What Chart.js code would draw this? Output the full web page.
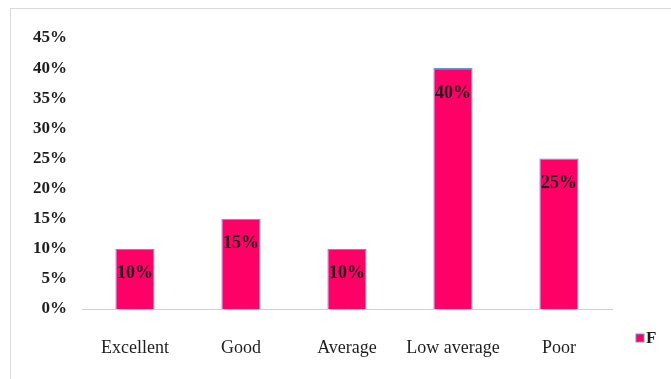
<!DOCTYPE html>
<html>
<head>
<meta charset="utf-8">
<script src="https://cdn.jsdelivr.net/npm/chart.js@4"></script>
<style>
    html, body { margin: 0; padding: 0; background: #fff; }
    #frame {
        position: absolute; left: 10px; top: 8px;
        width: 700px; height: 400px;
        border: 1px solid #d9d9d9;
    }
    #wrap { position: absolute; left: 0; top: 0; width: 671px; height: 379px; }
</style>
</head>
<body>
<div id="frame"></div>
<div id="wrap"><canvas id="barChart" width="671" height="379"></canvas></div>
<script>
const categories = ['Excellent', 'Good', 'Average', 'Low average', 'Poor'];
const percentages = [10, 15, 10, 40, 25];
const seriesName = 'F';

const serif = 'Liberation Serif, Times New Roman, serif';
const textColor = '#1e1e1e';

// value labels inside each bar + small legend at bottom right
const extras = {
    id: 'extras',
    afterDatasetsDraw(chart) {
        const ctx = chart.ctx;
        const meta = chart.getDatasetMeta(0);
        ctx.save();
        ctx.fillStyle = textColor;
        ctx.font = 'bold 18px ' + serif;
        ctx.textAlign = 'center';
        ctx.textBaseline = 'middle';
        meta.data.forEach((bar, i) => {
            ctx.fillText(percentages[i] + '%', bar.x, bar.y + 25);
        });

        const ds = chart.data.datasets[0];
        ctx.fillStyle = ds.backgroundColor;
        ctx.strokeStyle = ds.borderColor;
        ctx.lineWidth = 1;
        ctx.fillRect(636, 334, 8, 8);
        ctx.strokeRect(636, 334, 8, 8);
        ctx.fillStyle = textColor;
        ctx.font = 'bold 17px ' + serif;
        ctx.textAlign = 'left';
        ctx.fillText(ds.label, 646, 339);
        ctx.restore();
    }
};

const ctx1 = document.getElementById('barChart').getContext('2d');

new Chart(ctx1, {
    type: 'bar',
    data: {
        labels: categories,
        datasets: [{
            label: seriesName,
            data: percentages,
            backgroundColor: '#ff0066',
            borderColor: '#5b9bd5',
            borderWidth: 1.2,
            categoryPercentage: 1,
            barPercentage: 0.37
        }]
    },
    options: {
        responsive: false,
        animation: false,
        layout: { padding: { left: 10, right: 59, top: 38, bottom: 10 } },
        plugins: {
            legend: { display: false },
            tooltip: { enabled: false }
        },
        scales: {
            x: {
                grid: { display: false },
                border: { display: true, color: '#d0d0d0', width: 1 },
                ticks: {
                    color: textColor,
                    font: { family: serif, size: 18 },
                    padding: 20,
                    maxRotation: 0
                },
                afterFit(scale) { scale.height = 60; }
            },
            y: {
                min: 0,
                max: 45,
                grid: { display: false },
                border: { display: false },
                ticks: {
                    stepSize: 5,
                    color: textColor,
                    font: { family: serif, size: 17, weight: 'bold' },
                    padding: 7,
                    callback: v => v + '%'
                },
                afterFit(scale) { scale.width = 72; }
            }
        }
    },
    plugins: [extras]
});
</script>
</body>
</html>
